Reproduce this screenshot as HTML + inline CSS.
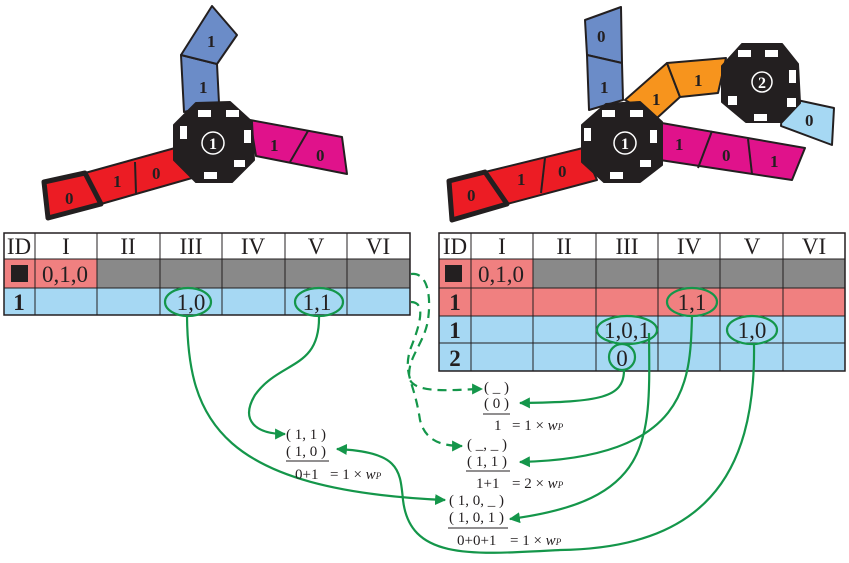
<!DOCTYPE html>
<html><head><meta charset="utf-8"><style>
html,body{margin:0;padding:0;background:#fff}
svg{display:block}
text{font-family:"Liberation Serif",serif;fill:#231f20}
</style></head><body>
<svg width="849" height="563" viewBox="0 0 849 563" xmlns="http://www.w3.org/2000/svg">
<defs>
<marker id="ar" viewBox="0 0 10 10" refX="9" refY="5" markerWidth="5" markerHeight="5" orient="auto"><path d="M0,0 L10,5 L0,10 z" fill="#14964a"/></marker>
</defs>

<!-- LEFT ROBOT -->
<g stroke="#231f20" stroke-width="2" stroke-linejoin="round">
<polygon points="181,55 217,64 219,103 184,112" fill="#6b8cc8"/>
<polygon points="181,55 212,6 237,35 217,64" fill="#6b8cc8"/>
<polygon points="250,120 342,137 347,174 256,156" fill="#e0128b"/>
<line x1="308" y1="131" x2="290" y2="162"/>
<polygon points="85,173 175,148 192,178 101,204" fill="#ec1c24"/>
<line x1="135" y1="162" x2="136" y2="193"/>
<polygon points="44,182 85,173 101,204 48,218" fill="#ec1c24" stroke-width="5"/>
<polygon points="196,103 230,102 252,122 254,160 232,182 196,182 174,160 174,125" fill="#231f20"/>
</g>
<g fill="#fff">
<rect x="198" y="110" width="13" height="7"/><rect x="226" y="110" width="13" height="7"/>
<rect x="180" y="126" width="7" height="13"/><rect x="244" y="130" width="7" height="13"/>
<rect x="234" y="160" width="11" height="7"/><rect x="204" y="172" width="13" height="7"/>
</g>
<circle cx="213" cy="143" r="11" fill="none" stroke="#fff" stroke-width="1.5"/>
<text x="213" y="149" font-size="16" font-weight="bold" text-anchor="middle" style="fill:#fff">1</text>
<g font-size="17" font-weight="bold">
<text x="207" y="47">1</text><text x="199" y="93">1</text>
<text x="270" y="151">1</text><text x="316" y="161">0</text>
<text x="152" y="179">0</text><text x="113" y="187">1</text><text x="65" y="204">0</text>
</g>

<!-- RIGHT ROBOT -->
<g stroke="#231f20" stroke-width="2" stroke-linejoin="round">
<polygon points="585,20 621,7 622,63 587,55" fill="#6b8cc8"/>
<polygon points="587,55 622,63 623,100 589,110" fill="#6b8cc8"/>
<polygon points="625,100 667,63 680,97 657,118" fill="#f7941d"/>
<polygon points="667,63 726,58 718,93 680,97" fill="#f7941d"/>
<polygon points="783,97 834,108 832,145 781,126" fill="#a6d8f3"/>
<polygon points="656,122 805,148 792,180 660,160" fill="#e0128b"/>
<line x1="712" y1="131" x2="698" y2="168"/>
<line x1="748" y1="139" x2="752" y2="174"/>
<polygon points="485,172 583,148 597,180 507,204" fill="#ec1c24"/>
<line x1="545" y1="158" x2="541" y2="193"/>
<polygon points="449,181 485,172 507,204 452,220" fill="#ec1c24" stroke-width="5"/>
<polygon points="606,104 640,102 662,122 662,165 640,182 604,182 582,162 582,125" fill="#231f20"/>
<polygon points="742,44 782,44 798,64 800,103 782,122 746,122 722,102 722,66" fill="#231f20"/>
</g>
<g fill="#fff">
<rect x="602" y="110" width="13" height="7"/><rect x="630" y="110" width="13" height="7"/>
<rect x="584" y="128" width="7" height="13"/><rect x="650" y="130" width="7" height="13"/>
<rect x="640" y="160" width="11" height="7"/><rect x="610" y="172" width="13" height="7"/>
<rect x="738" y="50" width="13" height="7"/><rect x="765" y="50" width="13" height="7"/>
<rect x="789" y="70" width="7" height="13"/><rect x="787" y="98" width="9" height="9"/>
<rect x="754" y="114" width="13" height="7"/><rect x="728" y="96" width="9" height="9"/>
</g>
<circle cx="762" cy="82" r="10" fill="none" stroke="#fff" stroke-width="1.5"/>
<text x="762" y="88" font-size="16" font-weight="bold" text-anchor="middle" style="fill:#fff">2</text>
<circle cx="625" cy="143" r="11" fill="none" stroke="#fff" stroke-width="1.5"/>
<text x="625" y="149" font-size="16" font-weight="bold" text-anchor="middle" style="fill:#fff">1</text>
<g font-size="17" font-weight="bold">
<text x="597" y="42">0</text><text x="600" y="93">1</text>
<text x="652" y="105">1</text><text x="694" y="86">1</text>
<text x="805" y="126">0</text>
<text x="675" y="150">1</text><text x="722" y="161">0</text><text x="770" y="167">1</text>
<text x="558" y="177">0</text><text x="517" y="185">1</text><text x="467" y="201">0</text>
</g>

<!-- LEFT TABLE -->
<g stroke="#231f20" stroke-width="1">
<rect x="4" y="233" width="406" height="26" fill="#fff"/>
<rect x="4" y="259" width="93" height="29" fill="#f08080"/>
<rect x="97" y="259" width="313" height="29" fill="#898989"/>
<rect x="4" y="288" width="406" height="27" fill="#a6d8f3"/>
<path d="M35,233V315M97,233V315M160,233V315M222,233V315M285,233V315M347,233V315" fill="none"/>
<rect x="4" y="233" width="406" height="82" fill="none" stroke-width="1.5"/>
</g>
<rect x="11" y="265" width="17" height="17" fill="#231f20"/>
<g font-size="23" text-anchor="middle">
<text x="19" y="254">ID</text><text x="66" y="254">I</text><text x="128" y="254">II</text><text x="191" y="254">III</text><text x="253" y="254">IV</text><text x="316" y="254">V</text><text x="378" y="254">VI</text>
<text x="65" y="282">0,1,0</text>
<text x="19" y="310" font-weight="bold">1</text>
<text x="191" y="310">1,0</text><text x="317" y="310">1,1</text>
</g>

<!-- RIGHT TABLE -->
<g stroke="#231f20" stroke-width="1">
<rect x="439" y="233" width="406" height="26" fill="#fff"/>
<rect x="439" y="259" width="94" height="29" fill="#f08080"/>
<rect x="533" y="259" width="312" height="29" fill="#898989"/>
<rect x="439" y="288" width="406" height="28" fill="#f08080"/>
<rect x="439" y="316" width="406" height="55" fill="#a6d8f3"/>
<path d="M471,233V371M533,233V371M596,233V371M658,233V371M720,233V371M783,233V371M439,343H845" fill="none"/>
<rect x="439" y="233" width="406" height="138" fill="none" stroke-width="1.5"/>
</g>
<rect x="445" y="265" width="17" height="17" fill="#231f20"/>
<g font-size="23" text-anchor="middle">
<text x="455" y="254">ID</text><text x="502" y="254">I</text><text x="564" y="254">II</text><text x="627" y="254">III</text><text x="689" y="254">IV</text><text x="752" y="254">V</text><text x="814" y="254">VI</text>
<text x="501" y="282">0,1,0</text>
<text x="455" y="310" font-weight="bold">1</text>
<text x="455" y="338" font-weight="bold">1</text>
<text x="455" y="366" font-weight="bold">2</text>
<text x="692" y="310">1,1</text>
<text x="627" y="338">1,0,1</text><text x="752" y="338">1,0</text>
<text x="622" y="366">0</text>
</g>

<!-- ellipses -->
<g fill="none" stroke="#14964a" stroke-width="2.2">
<ellipse cx="188" cy="302" rx="23" ry="14"/>
<ellipse cx="319" cy="302" rx="24" ry="14"/>
<ellipse cx="692" cy="302" rx="25" ry="14"/>
<ellipse cx="627" cy="330" rx="30" ry="14"/>
<ellipse cx="752" cy="330" rx="25" ry="14"/>
<ellipse cx="622" cy="357" rx="13" ry="13"/>
</g>

<!-- connectors -->
<g fill="none" stroke="#14964a" stroke-width="2.2" marker-end="url(#ar)">
<path d="M187,316 C188,420 220,490 445,500"/>
<path d="M319,316 C320,370 280,360 255,395 C240,420 255,434 285,434"/>
<path d="M624,370 C624,398 600,402 520,403"/>
<path d="M692,316 C690,380 690,458 520,462"/>
<path d="M649,333 C650,440 655,500 510,519"/>
<path d="M754,344 C756,480 700,548 560,550 C470,555 410,560 403,500 C400,470 400,452 337,449"/>
<path d="M411,274 C425,272 432,290 428,320 C424,345 405,360 410,380 C418,395 460,389 482,389" stroke-dasharray="9,6"/>
<path d="M411,302 C428,302 418,330 410,350 C403,375 414,380 420,420 C425,440 440,446 462,446" stroke-dasharray="9,6"/>
</g>

<!-- formulas -->
<g font-size="15" fill="#231f20">
<text x="286" y="439">( 1, 1 )</text>
<text x="286" y="456">( 1, 0 )</text>
<text x="295" y="479">0+1</text><text x="330" y="479">= 1 × <tspan font-style="italic">w</tspan><tspan font-style="italic" font-size="9">P</tspan></text>

<text x="484" y="392">( _ )</text>
<text x="484" y="408">( 0 )</text>
<text x="494" y="430">1</text><text x="512" y="430">= 1 × <tspan font-style="italic">w</tspan><tspan font-style="italic" font-size="9">P</tspan></text>

<text x="467" y="449">( _, _ )</text>
<text x="467" y="466">( 1, 1 )</text>
<text x="476" y="488">1+1</text><text x="512" y="488">= 2 × <tspan font-style="italic">w</tspan><tspan font-style="italic" font-size="9">P</tspan></text>

<text x="449" y="505">( 1, 0, _ )</text>
<text x="449" y="522">( 1, 0, 1 )</text>
<text x="457" y="545">0+0+1</text><text x="510" y="545">= 1 × <tspan font-style="italic">w</tspan><tspan font-style="italic" font-size="9">P</tspan></text>
</g>
<g stroke="#231f20" stroke-width="1">
<line x1="286" y1="461" x2="329" y2="461"/>
<line x1="483" y1="414" x2="510" y2="414"/>
<line x1="466" y1="471" x2="510" y2="471"/>
<line x1="448" y1="528" x2="508" y2="528"/>
</g>
</svg>
</body></html>
